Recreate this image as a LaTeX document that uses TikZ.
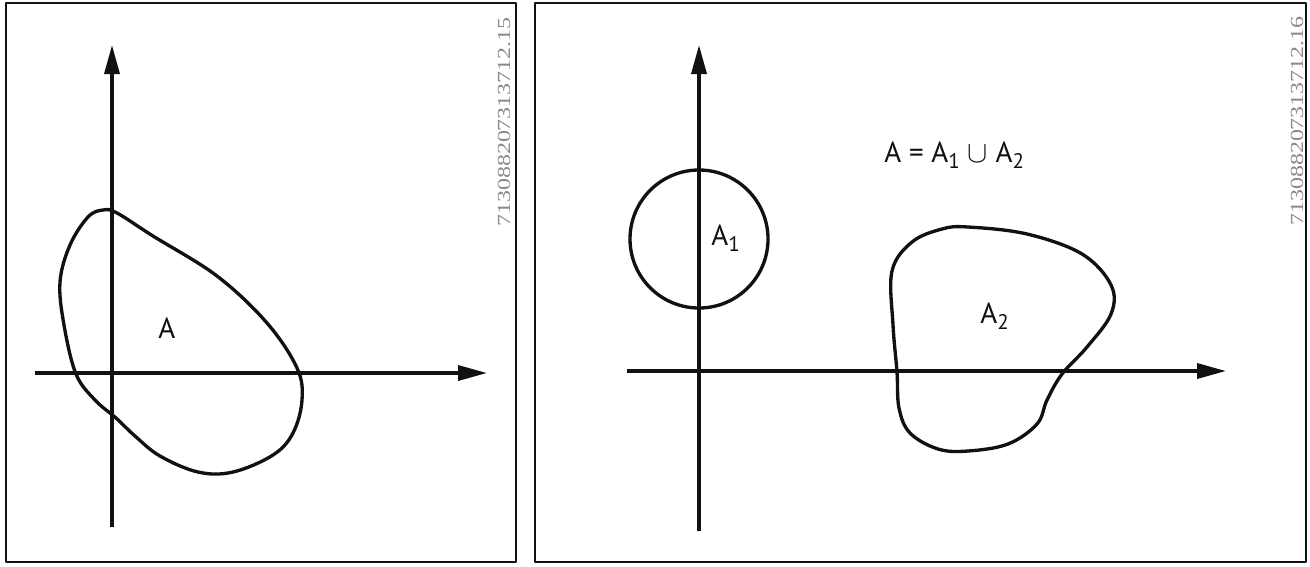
\documentclass[tikz,border=0pt]{standalone}
\usepackage{fontspec}
\setmainfont{PT Sans}
\newfontfamily\serialfont{Liberation Serif}
\usetikzlibrary{arrows.meta}
\definecolor{cink}{HTML}{111111}
\definecolor{cserial}{HTML}{8a8a8a}
\newcommand{\lowidx}[1]{\raisebox{-.45ex}{\fontsize{12}{12}\selectfont #1}}

\begin{document}
\begin{tikzpicture}[x=.02cm, y=-.02cm, line join=round,
    every node/.style={font=\fontsize{16.5}{19}\selectfont, text=cink, inner sep=0pt},
    frame/.style={draw=cink, line width=1.4pt},
    axis/.style={draw=cink, line width=2pt, -{Triangle[length=.58cm, width=.3cm]}},
    region/.style={draw=cink, line width=1.9pt},
    serial/.style={rotate=90, xscale=1.3, font=\serialfont\fontsize{10.5}{12}\selectfont, text=cserial}]
  \useasboundingbox (0,0) rectangle (1310,566);
  % left panel: one region A
  \draw[frame] (6,3) rectangle (516,562);
  \coordinate (lxs) at (35,373);
  \coordinate (lxe) at (487,373);
  \coordinate (lys) at (112,527);
  \coordinate (lye) at (112,45);
  \draw[axis] (lxs) -- (lxe);
  \draw[axis] (lys) -- (lye);
  \draw[region] plot[smooth cycle, tension=.6] coordinates {
    (103,210) (117,213) (153,236) (217,276) (267,323) (297,368) (302,400) (293,433)
    (273,455) (233,472) (198,472) (160,456) (135,436) (116,418) (95,400)
    (76,374) (64,325) (60,282) (70,245) (88,217)};
  \node[anchor=base west] (la) at (158,338) {A};
  \node[serial] (lnum) at (504,122) {713088207313712.15};
  % right panel: A = A1 u A2
  \draw[frame] (535,3) rectangle (1306,562);
  \coordinate (rxs) at (627,371);
  \coordinate (rxe) at (1226,371);
  \coordinate (rys) at (699,531);
  \coordinate (rye) at (699,45);
  \draw[axis] (rxs) -- (rxe);
  \draw[axis] (rys) -- (rye);
  \draw[region] (699,239) circle[radius=69];
  \draw[region] plot[smooth cycle, tension=.6] coordinates {
    (968,227) (1027,234) (1082,254) (1111,285) (1111,314) (1087,347)
    (1062,374) (1047,400) (1037,424) (1008,444) (968,451) (938,449)
    (910,433) (899,408) (897,372) (893,325) (892,271) (912,242) (942,229)};
  \node[anchor=base west] (ra1) at (711,245) {A\lowidx{1}};
  \node[anchor=base west] (ra2) at (980,323) {A\lowidx{2}};
  \node[anchor=base west] (runion) at (884,162) {A = A\lowidx{1} $\cup$ A\lowidx{2}};
  \node[serial] (rnum) at (1297,121) {713088207313712.16};
\end{tikzpicture}
\end{document}
